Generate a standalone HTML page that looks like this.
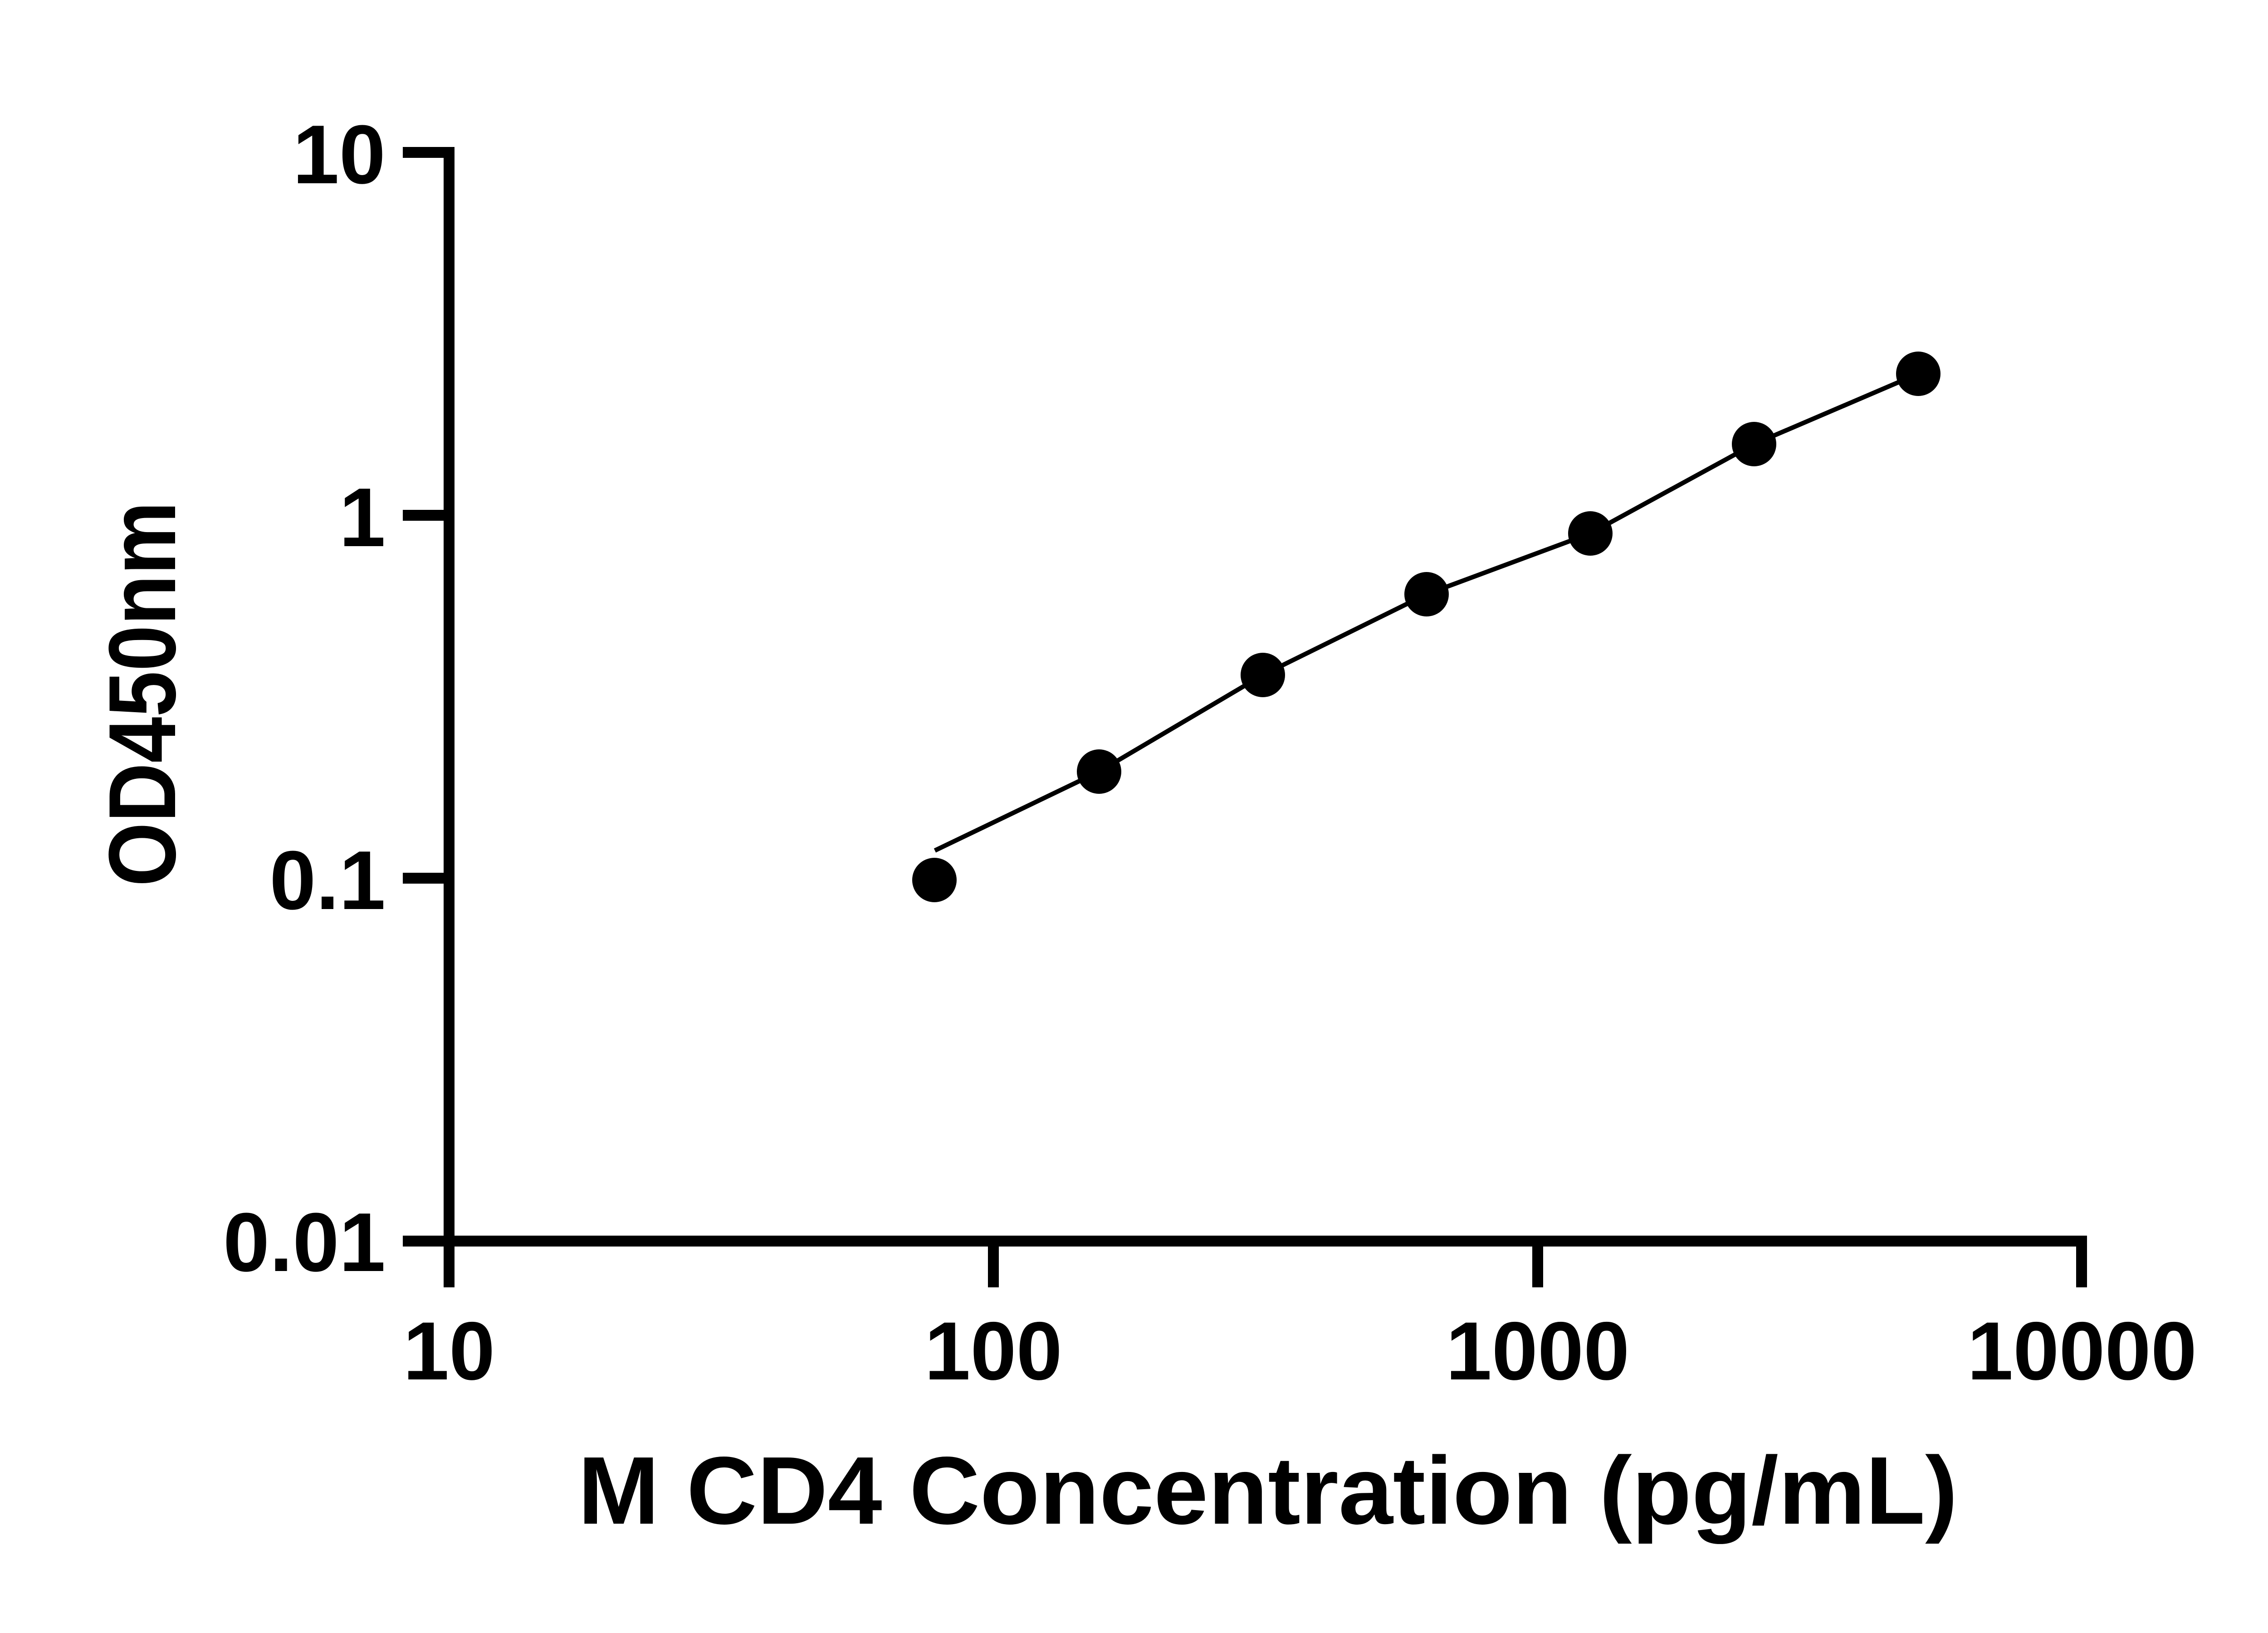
<!DOCTYPE html>
<html><head><meta charset="utf-8"><style>html,body{margin:0;padding:0;background:#fff}svg{display:block}</style></head>
<body>
<svg width="5142" height="3600" viewBox="0 0 5142 3600" xmlns="http://www.w3.org/2000/svg">
<rect width="5142" height="3600" fill="#fff"/>
<g stroke="#000" stroke-width="24" fill="none">
<line x1="990" y1="324" x2="990" y2="2838"/>
<line x1="978" y1="2736" x2="4601" y2="2736"/>
<line x1="888" y1="336" x2="990" y2="336"/>
<line x1="888" y1="1136" x2="990" y2="1136"/>
<line x1="888" y1="1936" x2="990" y2="1936"/>
<line x1="888" y1="2736" x2="990" y2="2736"/>
<line x1="2190" y1="2736" x2="2190" y2="2838"/>
<line x1="3390" y1="2736" x2="3390" y2="2838"/>
<line x1="4589" y1="2724" x2="4589" y2="2838"/>
</g>
<g font-family="Liberation Sans, Arial, sans-serif" font-weight="bold" font-size="184" fill="#000" text-anchor="end">
<text x="850" y="404">10</text>
<text x="850" y="1204">1</text>
<text x="850" y="2004">0.1</text>
<text x="850" y="2802">0.01</text>
</g>
<g font-family="Liberation Sans, Arial, sans-serif" font-weight="bold" font-size="182" fill="#000" text-anchor="middle">
<text x="990" y="3041">10</text>
<text x="2190" y="3041">100</text>
<text x="3390" y="3041">1000</text>
<text x="4590" y="3041">10000</text>
</g>
<polyline fill="none" stroke="#000" stroke-width="10" points="2061,1875 2423,1701 2784,1488 3145,1310 3506,1176 3867,979 4229,824"/>
<g fill="#000">
<circle cx="2060" cy="1940" r="49"/>
<circle cx="2423" cy="1701" r="49"/>
<circle cx="2784" cy="1488" r="49"/>
<circle cx="3145" cy="1310" r="49"/>
<circle cx="3506" cy="1176" r="49"/>
<circle cx="3867" cy="979" r="49"/>
<circle cx="4229" cy="824" r="49"/>
</g>
<text x="1274" y="3359" font-family="Liberation Sans, Arial, sans-serif" font-weight="bold" font-size="212" textLength="3042" lengthAdjust="spacingAndGlyphs" fill="#000">M CD4 Concentration (pg/mL)</text>
<text transform="translate(386,1530) rotate(-90)" x="0" y="0" text-anchor="middle" font-family="Liberation Sans, Arial, sans-serif" font-weight="bold" font-size="210" textLength="849" lengthAdjust="spacingAndGlyphs" fill="#000">OD450nm</text>
</svg>
</body></html>
